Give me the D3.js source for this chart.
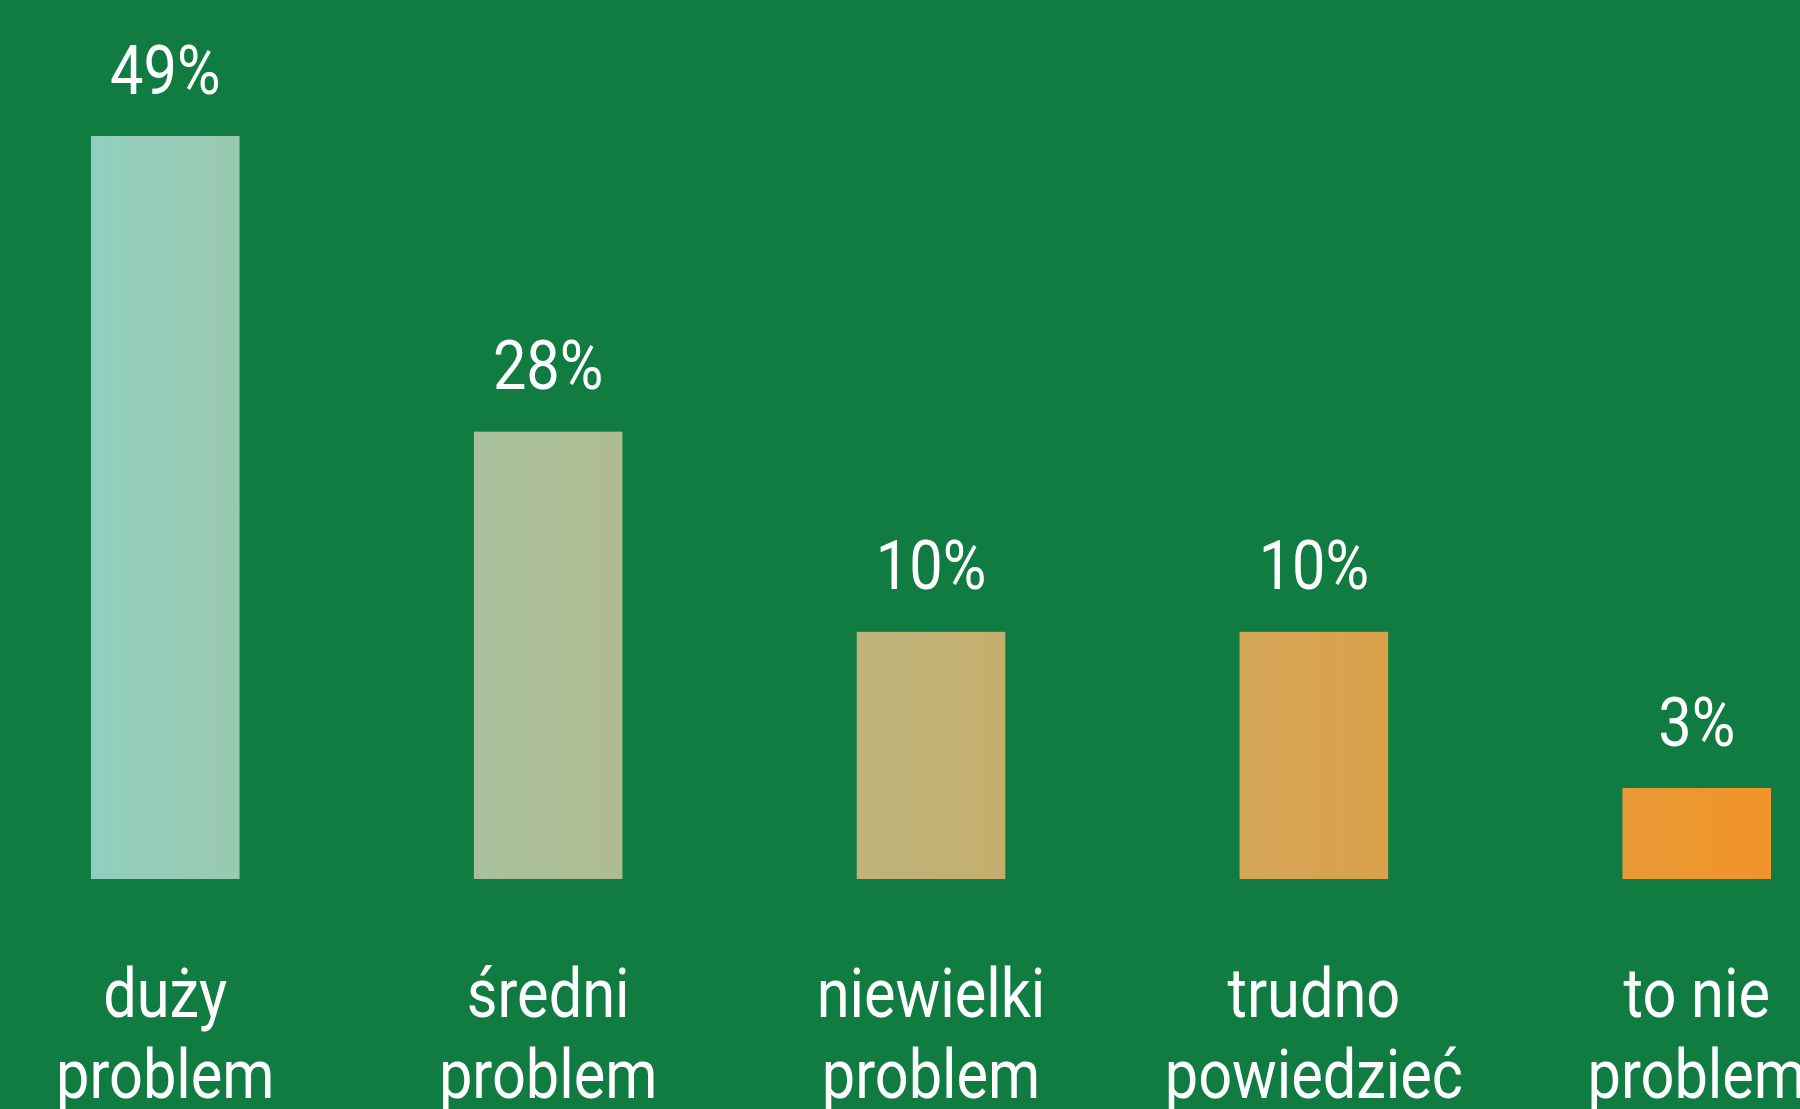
<!DOCTYPE html>
<html>
<head>
<meta charset="utf-8">
<script src="https://cdn.jsdelivr.net/npm/d3@7"></script>
<style>
  html, body { margin: 0; padding: 0; background: #117c42; overflow: hidden; }
  svg { display: block; }
  text { font-family: Roboto, "Open Sans", sans-serif; fill: #ffffff; }
</style>
</head>
<body>
<svg width="1800" height="1109"></svg>
<script>
// Categories (two lines each)
const categories = [
  ["duży", "problem"],
  ["średni", "problem"],
  ["niewielki", "problem"],
  ["trudno", "powiedzieć"],
  ["to nie", "problem"]
];

// Value labels shown above bars
const valueLabels = ["49%", "28%", "10%", "10%", "3%"];

// Bar lengths as drawn in the picture (they are not exactly proportional to the labels)
const barValues = [49, 29.5, 16.3, 16.3, 6.0];

const svg = d3.select("svg");
const baseline = 879;
const topY = 136;
const squeeze = 0.875; // condensed look

// X scale
const xScale = d3.scaleBand()
  .domain(d3.range(categories.length))
  .range([91, 1771])
  .paddingInner(0.612)
  .paddingOuter(0);

// Y scale
const yScale = d3.scaleLinear()
  .domain([0, 49])
  .range([baseline, topY]);

// One gradient across all bars
const defs = svg.append("defs");
const grad = defs.append("linearGradient")
  .attr("id", "barGrad")
  .attr("gradientUnits", "userSpaceOnUse")
  .attr("x1", xScale(0))
  .attr("x2", xScale(categories.length - 1) + xScale.bandwidth())
  .attr("y1", 0)
  .attr("y2", 0);
grad.append("stop").attr("offset", "0%").attr("stop-color", "#92cebe");
grad.append("stop").attr("offset", "100%").attr("stop-color", "#f19429");

// Bars
svg.selectAll("rect.bar")
  .data(barValues)
  .enter()
  .append("rect")
  .attr("class", "bar")
  .attr("x", (d, i) => xScale(i))
  .attr("y", d => yScale(d))
  .attr("width", xScale.bandwidth())
  .attr("height", d => baseline - yScale(d))
  .attr("fill", "url(#barGrad)");

// Value labels
svg.selectAll("text.value")
  .data(barValues)
  .enter()
  .append("text")
  .attr("class", "value")
  .attr("text-anchor", "middle")
  .attr("transform", (d, i) =>
    `translate(${xScale(i) + xScale.bandwidth() / 2}, ${yScale(d) - 42.5}) scale(${squeeze}, 1)`)
  .style("font-size", "68px")
  .text((d, i) => valueLabels[i]);

// Category labels
const catGroups = svg.selectAll("g.cat")
  .data(categories)
  .enter()
  .append("g")
  .attr("class", "cat")
  .attr("transform", (d, i) =>
    `translate(${xScale(i) + xScale.bandwidth() / 2}, 1016.5) scale(${squeeze}, 1)`);

catGroups.selectAll("text")
  .data(d => d)
  .enter()
  .append("text")
  .attr("text-anchor", "middle")
  .attr("y", (d, j) => j * 81.6)
  .style("font-size", "68px")
  .text(d => d);
</script>
</body>
</html>
